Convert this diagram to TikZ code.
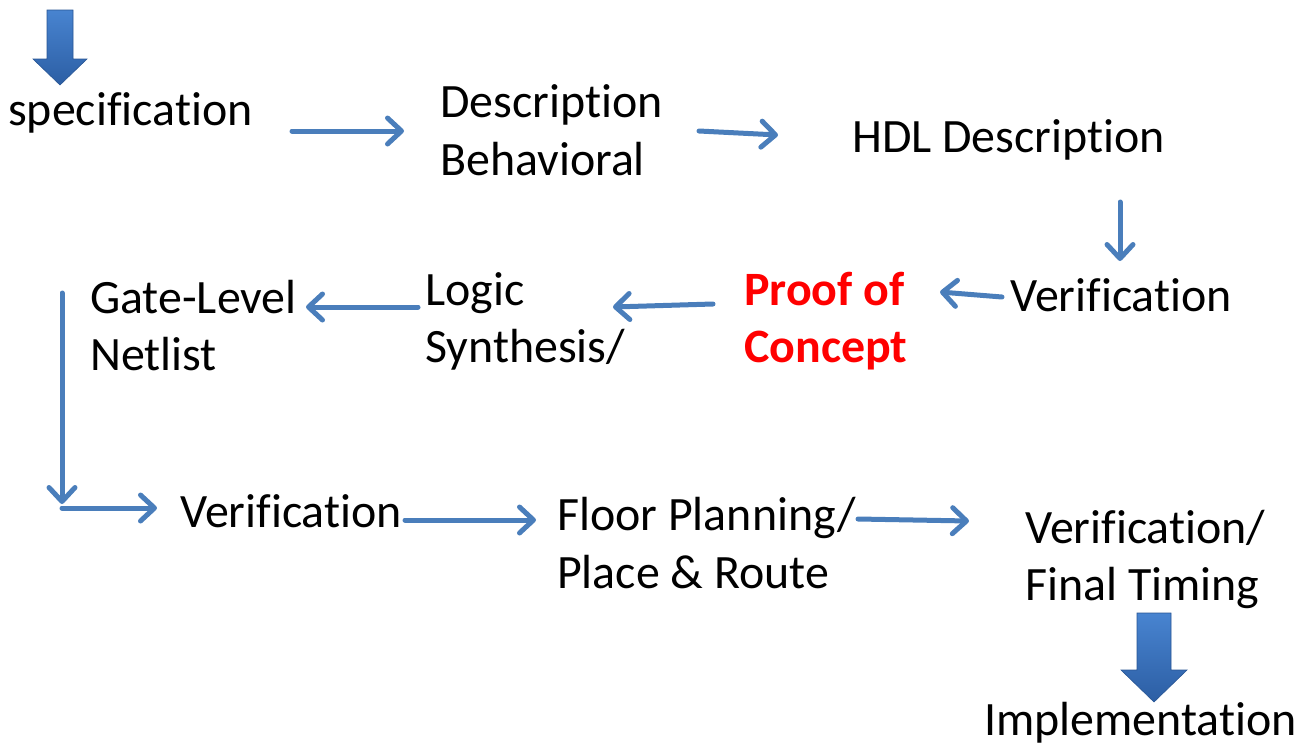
\documentclass[tikz,border=0pt]{standalone}
\usepackage{fontspec}
\setmainfont{Carlito}[RawFeature={-liga,-clig,-dlig}]
\usetikzlibrary{arrows.meta}
\definecolor{arrblue}{RGB}{74,126,187}
\definecolor{blocktop}{RGB}{72,132,208}
\definecolor{blockbot}{RGB}{44,94,164}
\tikzset{
  lbl/.style={anchor=base west, inner sep=0pt, font=\fontsize{47.9}{57}\selectfont},
  redlbl/.style={lbl, text={rgb,255:red,255;green,0;blue,0}, font=\fontsize{47.9}{57}\selectfont\bfseries},
  arr/.style={draw=arrblue, line width=5pt, line cap=round,
    -{Straight Barb[length=14pt,width=26pt,line width=5pt,line cap=round,line join=round]}},
  blockarr/.style={top color=blocktop, bottom color=blockbot, draw=blockbot!90!black, line width=0.6pt}
}
\begin{document}
\begin{tikzpicture}[x=1pt,y=-1pt]
\useasboundingbox (0,0) rectangle (1312,745);
% block arrows
\path[blockarr] (47,10) -- (73,10) -- (73,59) -- (87,59) -- (60,85) -- (33,59) -- (47,59) -- cycle;
\path[blockarr] (1137,613) -- (1171,613) -- (1171,670) -- (1187,670) -- (1154,702) -- (1121,670) -- (1137,670) -- cycle;
% labels
\node[lbl] (spec) at (8,125) {specification};
\node[lbl] (desc1) at (440,117) {Description};
\node[lbl] (desc2) at (440,175) {Behavioral};
\node[lbl] (hdl) at (852,152) {HDL Description};
\node[lbl] (ver1) at (1010,311) {Verification};
\node[redlbl] (poc1) at (744,305) {Proof of};
\node[redlbl] (poc2) at (744,362) {Concept};
\node[lbl] (log1) at (425,305) {Logic};
\node[lbl] (log2) at (425,362) {Synthesis/};
\node[lbl] (gate1) at (90,313) {Gate-Level};
\node[lbl] (gate2) at (90,370) {Netlist};
\node[lbl] (ver2) at (180,527) {Verification};
\node[lbl] (fp1) at (557,530) {Floor Planning/};
\node[lbl] (fp2) at (557,588) {Place \& Route};
\node[lbl] (ver3) at (1025,543) {Verification/};
\node[lbl] (ver4) at (1025,600) {Final Timing};
\node[lbl] (impl) at (984,735) {Implementation};
% connector end points
\coordinate (a1s) at (292,131); \coordinate (a1e) at (404,131);
\coordinate (a2s) at (699,131); \coordinate (a2e) at (778,135);
\coordinate (a3s) at (1120,202); \coordinate (a3e) at (1120,261);
\coordinate (a4s) at (1002,297); \coordinate (a4e) at (940,292);
\coordinate (a5s) at (713,304); \coordinate (a5e) at (613,307);
\coordinate (a6s) at (418,307); \coordinate (a6e) at (306,307);
\coordinate (a7s) at (62,293); \coordinate (a7e) at (62,504);
\coordinate (a8s) at (62,508); \coordinate (a8e) at (157,508);
\coordinate (a9s) at (405,520); \coordinate (a9e) at (536,520);
\coordinate (a10s) at (858,519); \coordinate (a10e) at (969,521);
% connectors
\draw[arr] (a1s) -- (a1e);
\draw[arr] (a2s) -- (a2e);
\draw[arr] (a3s) -- (a3e);
\draw[arr] (a4s) -- (a4e);
\draw[arr] (a5s) -- (a5e);
\draw[arr] (a6s) -- (a6e);
\draw[arr] (a7s) -- (a7e);
\draw[arr] (a8s) -- (a8e);
\draw[arr] (a9s) -- (a9e);
\draw[arr] (a10s) -- (a10e);
\end{tikzpicture}
\end{document}
